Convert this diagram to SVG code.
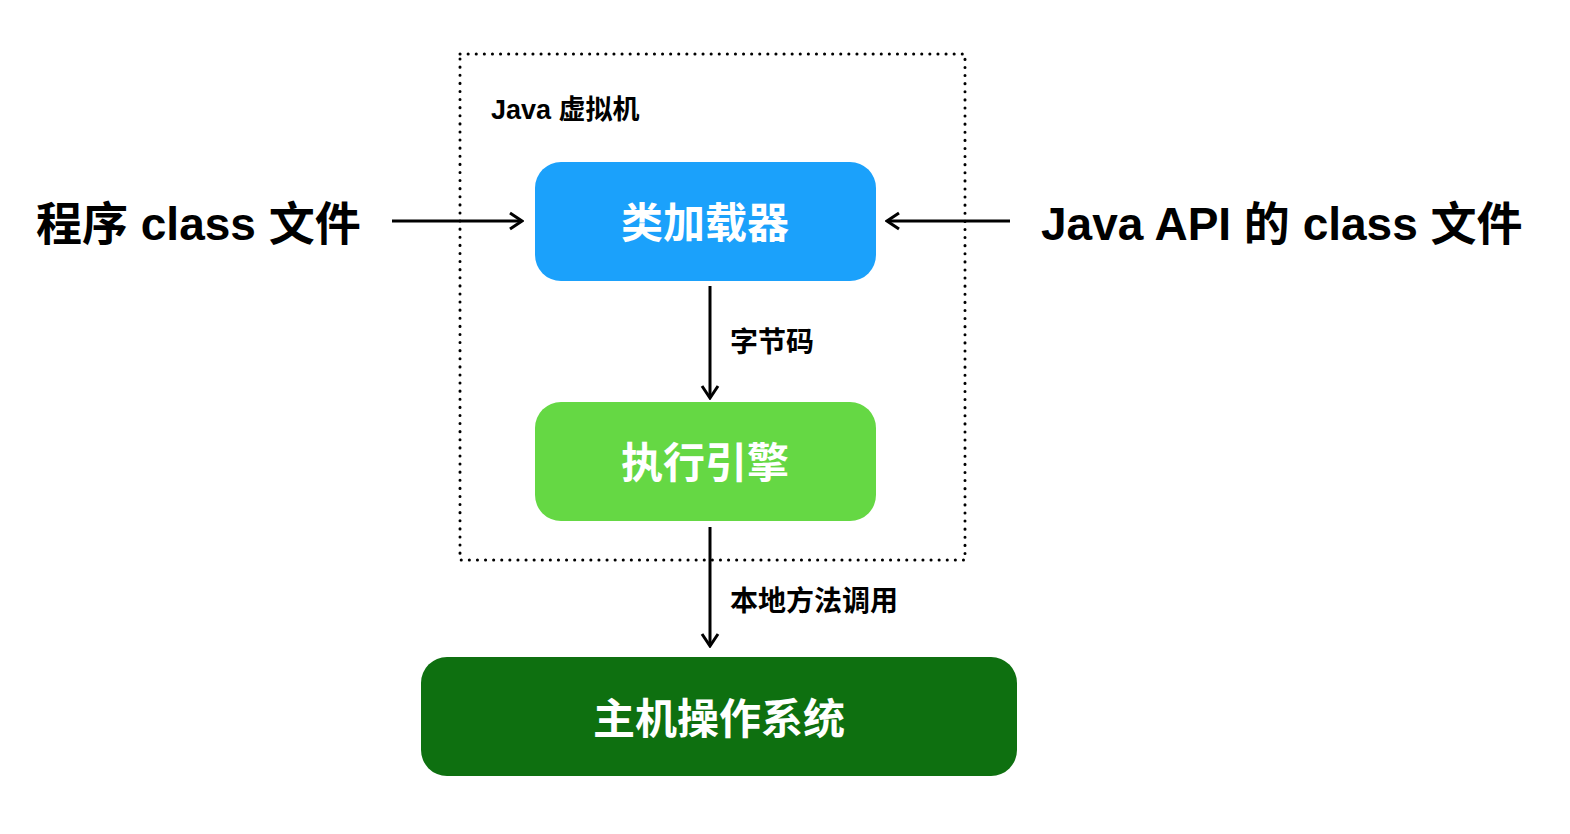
<svg xmlns="http://www.w3.org/2000/svg" width="1570" height="834" viewBox="0 0 1570 834">
<style>
text{font-family:"Liberation Sans","Noto Sans CJK SC",sans-serif;font-weight:bold}
.big{font-size:46px;fill:#000}
.box{font-size:42px;fill:#fff;text-anchor:middle}
.lbl{font-size:28px;fill:#000}
.conn{stroke:#000;stroke-width:3;fill:none;marker-end:url(#ah)}
</style>
<defs>
<marker id="ah" viewBox="0 0 20 20" refX="18" refY="10" markerWidth="20" markerHeight="20" markerUnits="userSpaceOnUse" orient="auto">
<path d="M6 2 L18 10 L6 18" fill="none" stroke="#000" stroke-width="3"/>
</marker>
</defs>
<rect width="1570" height="834" fill="#fff"/>
<g id="jvm">
<rect x="460" y="54" width="505" height="506" fill="none" stroke="#000" stroke-width="3" stroke-dasharray="0.1 8" stroke-linecap="round"/>
<text x="491" y="119" style="font-size:27px">Java 虚拟机</text>
</g>
<g id="src-left"><text class="big" x="36" y="240">程序 class 文件</text></g>
<g id="src-right"><text class="big" x="1041" y="240">Java API 的 class 文件</text></g>
<g id="loader"><rect x="535" y="162" width="341" height="119" rx="26" fill="#1ba1fb"/><text class="box" x="705" y="238">类加载器</text></g>
<g id="engine"><rect x="535" y="402" width="341" height="119" rx="26" fill="#65d844"/><text class="box" x="705" y="478">执行引擎</text></g>
<g id="os"><rect x="421" y="657" width="596" height="119" rx="26" fill="#0e7010"/><text class="box" x="719" y="734">主机操作系统</text></g>
<g id="connectors">
<line class="conn" x1="392" y1="221" x2="522" y2="221"/>
<line class="conn" x1="1010" y1="221" x2="887" y2="221"/>
<line class="conn" x1="710" y1="286" x2="710" y2="398"/>
<line class="conn" x1="710" y1="527" x2="710" y2="646"/>
<text class="lbl" x="730" y="352">字节码</text>
<text class="lbl" x="730" y="611">本地方法调用</text>
</g>
</svg>
